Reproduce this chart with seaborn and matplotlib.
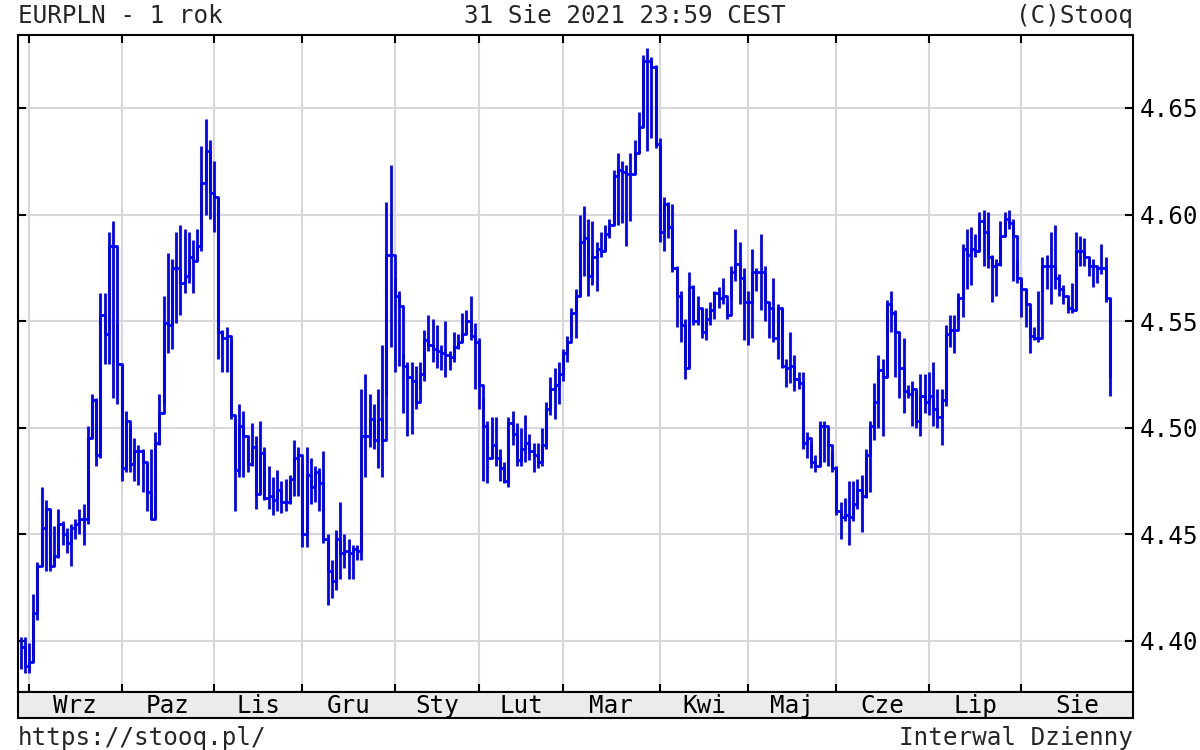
import matplotlib
matplotlib.use("Agg")
import matplotlib.pyplot as plt
import numpy as np
import pandas as pd
import seaborn as sns

sns.set_theme(style="white")
plt.rcParams["font.family"] = ["DejaVu Sans Mono", "DejaVu Sans"]

# EUR/PLN daily quotes (close / high / low), 28 Aug 2020 - 31 Aug 2021
close_aug20 = [4.397, 4.388]
high_aug20 = [4.402, 4.402]
low_aug20 = [4.387, 4.385]

close_sep = [4.390, 4.413, 4.435, 4.453, 4.462, 4.435, 4.440, 4.455, 4.450, 4.446, 4.453,
             4.455, 4.457, 4.457, 4.495, 4.513, 4.487, 4.553, 4.544, 4.585, 4.585, 4.530]
high_sep = [4.399, 4.422, 4.437, 4.472, 4.466, 4.462, 4.454, 4.462, 4.456, 4.453, 4.455,
            4.457, 4.462, 4.464, 4.501, 4.516, 4.514, 4.563, 4.563, 4.592, 4.597, 4.549]
low_sep = [4.385, 4.390, 4.410, 4.435, 4.433, 4.433, 4.435, 4.439, 4.445, 4.441, 4.435,
           4.448, 4.450, 4.445, 4.455, 4.495, 4.482, 4.486, 4.530, 4.530, 4.514, 4.511]

close_oct = [4.481, 4.503, 4.483, 4.489, 4.489, 4.484, 4.470, 4.457, 4.493, 4.507, 4.549,
             4.548, 4.575, 4.575, 4.568, 4.571, 4.580, 4.578, 4.585, 4.615, 4.630, 4.610]
high_oct = [4.530, 4.508, 4.500, 4.495, 4.492, 4.490, 4.483, 4.490, 4.498, 4.516, 4.562,
            4.582, 4.579, 4.592, 4.595, 4.593, 4.592, 4.588, 4.593, 4.632, 4.645, 4.635]
low_oct = [4.475, 4.479, 4.479, 4.475, 4.473, 4.470, 4.461, 4.457, 4.457, 4.492, 4.511,
           4.535, 4.537, 4.549, 4.553, 4.563, 4.568, 4.563, 4.578, 4.583, 4.600, 4.598]

close_nov = [4.608, 4.545, 4.542, 4.543, 4.506, 4.480, 4.501, 4.496, 4.483, 4.491, 4.469,
             4.488, 4.467, 4.468, 4.466, 4.471, 4.465, 4.465, 4.476, 4.486, 4.487]
high_nov = [4.625, 4.608, 4.546, 4.547, 4.542, 4.504, 4.511, 4.508, 4.494, 4.502, 4.496,
            4.503, 4.491, 4.482, 4.477, 4.480, 4.475, 4.476, 4.478, 4.494, 4.491]
low_nov = [4.592, 4.532, 4.526, 4.526, 4.504, 4.461, 4.477, 4.477, 4.479, 4.482, 4.462,
           4.469, 4.466, 4.462, 4.459, 4.461, 4.460, 4.461, 4.464, 4.468, 4.468]

close_dec = [4.450, 4.478, 4.472, 4.479, 4.474, 4.448, 4.433, 4.428, 4.448, 4.441, 4.442,
             4.441, 4.443, 4.442, 4.496, 4.496, 4.504, 4.494, 4.504, 4.494, 4.581, 4.581]
high_dec = [4.483, 4.491, 4.486, 4.482, 4.481, 4.489, 4.450, 4.438, 4.452, 4.465, 4.450,
            4.448, 4.445, 4.445, 4.518, 4.525, 4.516, 4.511, 4.518, 4.539, 4.606, 4.623]
low_dec = [4.444, 4.444, 4.464, 4.465, 4.461, 4.446, 4.417, 4.420, 4.424, 4.429, 4.434,
           4.429, 4.429, 4.438, 4.438, 4.477, 4.491, 4.490, 4.481, 4.477, 4.515, 4.538]

close_jan = [4.562, 4.557, 4.529, 4.524, 4.522, 4.512, 4.525, 4.541, 4.539, 4.537,
             4.536, 4.535, 4.534, 4.533, 4.538, 4.540, 4.544, 4.550, 4.543, 4.540]
high_jan = [4.570, 4.564, 4.535, 4.531, 4.531, 4.529, 4.531, 4.546, 4.553, 4.551,
            4.548, 4.539, 4.550, 4.536, 4.545, 4.544, 4.554, 4.555, 4.562, 4.549]
low_jan = [4.526, 4.529, 4.507, 4.496, 4.497, 4.509, 4.518, 4.522, 4.536, 4.531,
           4.528, 4.527, 4.524, 4.527, 4.531, 4.537, 4.540, 4.544, 4.541, 4.518]

close_feb = [4.520, 4.501, 4.486, 4.492, 4.486, 4.481, 4.475, 4.502, 4.497, 4.485,
             4.490, 4.493, 4.489, 4.487, 4.484, 4.492, 4.509, 4.518, 4.520, 4.525]
high_feb = [4.542, 4.514, 4.503, 4.505, 4.505, 4.490, 4.484, 4.505, 4.508, 4.502,
            4.500, 4.506, 4.497, 4.493, 4.493, 4.500, 4.512, 4.524, 4.528, 4.531]
low_feb = [4.509, 4.475, 4.474, 4.486, 4.482, 4.475, 4.474, 4.472, 4.492, 4.482,
           4.482, 4.484, 4.485, 4.479, 4.481, 4.482, 4.490, 4.506, 4.504, 4.511]

close_mar = [4.535, 4.540, 4.554, 4.562, 4.587, 4.589, 4.571, 4.580, 4.584, 4.583, 4.591, 4.595,
             4.618, 4.621, 4.620, 4.619, 4.619, 4.629, 4.641, 4.672, 4.672, 4.669, 4.633]
high_mar = [4.537, 4.543, 4.556, 4.565, 4.600, 4.604, 4.598, 4.597, 4.587, 4.592, 4.595, 4.598,
            4.621, 4.629, 4.625, 4.623, 4.629, 4.635, 4.648, 4.675, 4.678, 4.674, 4.670]
low_mar = [4.522, 4.531, 4.542, 4.542, 4.562, 4.571, 4.562, 4.567, 4.564, 4.580, 4.583, 4.589,
           4.595, 4.595, 4.596, 4.585, 4.597, 4.619, 4.629, 4.641, 4.630, 4.636, 4.631]

close_apr = [4.592, 4.605, 4.594, 4.575, 4.562, 4.548, 4.528, 4.566, 4.550, 4.556, 4.545,
             4.551, 4.555, 4.563, 4.561, 4.562, 4.553, 4.573, 4.577, 4.570, 4.559]
high_apr = [4.636, 4.608, 4.606, 4.605, 4.576, 4.564, 4.551, 4.573, 4.567, 4.562, 4.556,
            4.556, 4.559, 4.564, 4.566, 4.570, 4.559, 4.576, 4.593, 4.587, 4.575]
low_apr = [4.587, 4.583, 4.589, 4.573, 4.547, 4.540, 4.523, 4.528, 4.548, 4.548, 4.542,
           4.541, 4.548, 4.551, 4.556, 4.558, 4.551, 4.561, 4.569, 4.558, 4.541]

close_may = [4.559, 4.573, 4.573, 4.573, 4.559, 4.556, 4.542, 4.556, 4.529, 4.528, 4.529,
             4.523, 4.521, 4.493, 4.495, 4.484, 4.482, 4.501, 4.501, 4.492, 4.481]
high_may = [4.564, 4.584, 4.575, 4.591, 4.576, 4.559, 4.570, 4.558, 4.556, 4.532, 4.545,
            4.534, 4.526, 4.526, 4.498, 4.493, 4.487, 4.503, 4.503, 4.494, 4.489]
low_may = [4.539, 4.542, 4.564, 4.555, 4.550, 4.542, 4.540, 4.532, 4.528, 4.519, 4.521,
           4.517, 4.518, 4.490, 4.486, 4.481, 4.479, 4.482, 4.484, 4.482, 4.479]

close_jun = [4.461, 4.458, 4.459, 4.458, 4.464, 4.471, 4.468, 4.487, 4.501, 4.512, 4.527,
             4.524, 4.558, 4.554, 4.545, 4.528, 4.517, 4.516, 4.518, 4.503, 4.515, 4.512]
high_jun = [4.482, 4.465, 4.467, 4.475, 4.475, 4.476, 4.478, 4.490, 4.503, 4.521, 4.534,
            4.532, 4.560, 4.564, 4.555, 4.545, 4.542, 4.520, 4.522, 4.517, 4.525, 4.525]
low_jun = [4.459, 4.448, 4.456, 4.445, 4.456, 4.462, 4.451, 4.467, 4.470, 4.494, 4.500,
           4.496, 4.524, 4.545, 4.524, 4.514, 4.507, 4.514, 4.501, 4.500, 4.496, 4.507]

close_jul = [4.515, 4.509, 4.505, 4.513, 4.544, 4.546, 4.546, 4.561, 4.584, 4.581, 4.584,
             4.583, 4.597, 4.592, 4.580, 4.576, 4.577, 4.590, 4.598, 4.596, 4.590, 4.570]
high_jul = [4.526, 4.531, 4.518, 4.518, 4.548, 4.553, 4.553, 4.563, 4.586, 4.593, 4.594,
            4.591, 4.601, 4.602, 4.601, 4.581, 4.579, 4.597, 4.601, 4.602, 4.598, 4.579]
low_jul = [4.506, 4.501, 4.500, 4.492, 4.510, 4.538, 4.535, 4.551, 4.552, 4.565, 4.567,
           4.580, 4.583, 4.576, 4.575, 4.559, 4.562, 4.576, 4.590, 4.593, 4.569, 4.568]

close_aug = [4.565, 4.558, 4.543, 4.542, 4.542, 4.576, 4.576, 4.576, 4.570, 4.565, 4.562,
             4.556, 4.555, 4.583, 4.583, 4.580, 4.576, 4.576, 4.575, 4.575, 4.561, 4.524]
high_aug = [4.570, 4.565, 4.556, 4.547, 4.564, 4.580, 4.581, 4.592, 4.595, 4.572, 4.567,
            4.559, 4.568, 4.592, 4.590, 4.589, 4.579, 4.579, 4.576, 4.586, 4.580, 4.561]
low_aug = [4.552, 4.547, 4.535, 4.541, 4.540, 4.564, 4.565, 4.558, 4.565, 4.562, 4.558,
           4.554, 4.554, 4.555, 4.576, 4.576, 4.571, 4.566, 4.568, 4.572, 4.559, 4.515]

month_labels = ["Wrz", "Paz", "Lis", "Gru", "Sty", "Lut",
                "Mar", "Kwi", "Maj", "Cze", "Lip", "Sie"]
y_ticks = [4.40, 4.45, 4.50, 4.55, 4.60, 4.65]
closed_days = ["2020-12-25", "2021-01-01", "2021-04-02"]

dates = pd.bdate_range("2020-08-28", "2021-08-31")
dates = dates[~dates.isin(pd.to_datetime(closed_days))]

close = np.concatenate([close_aug20, close_sep, close_oct, close_nov, close_dec, close_jan,
                        close_feb, close_mar, close_apr, close_may, close_jun, close_jul, close_aug])
high = np.concatenate([high_aug20, high_sep, high_oct, high_nov, high_dec, high_jan,
                       high_feb, high_mar, high_apr, high_may, high_jun, high_jul, high_aug])
low = np.concatenate([low_aug20, low_sep, low_oct, low_nov, low_dec, low_jan,
                      low_feb, low_mar, low_apr, low_may, low_jun, low_jul, low_aug])

df = pd.DataFrame({"date": dates, "pos": np.arange(len(dates)),
                   "close": close, "high": high, "low": low})

# first session of each month from September on
month_pos = df.groupby(df["date"].dt.to_period("M"))["pos"].min().values[1:]
x_left = month_pos[0] - 11 / 4.205
x_right = month_pos[0] + 1104 / 4.205
edges = np.append(month_pos, x_right)
label_pos = (edges[:-1] + edges[1:]) / 2

blue = "#0000ff"
fs = 17.5
lw_data = 2.0

fig = plt.figure(figsize=(12, 7.5), dpi=100)
ax = fig.add_axes([0.015, 0.0773, 0.9292, 0.876])
band = fig.add_axes([0.015, 0.04267, 0.9292, 0.03467])

ax.vlines(df["pos"], df["low"], df["high"], color=blue, lw=lw_data, zorder=3)
sns.lineplot(data=df, x="pos", y="close", drawstyle="steps-post", color=blue,
             lw=lw_data, ax=ax, zorder=3)

ax.set_xlim(x_left, x_right)
ax.set_ylim(4.376, 4.6842)
ax.set_xlabel("")
ax.set_ylabel("")
ax.set_xticks(month_pos)
ax.set_xticklabels([])
ax.set_yticks(y_ticks)
ax.set_yticklabels([f"{v:.2f}" for v in y_ticks])
ax.tick_params(axis="x", direction="in", length=6, width=1.5, color="black",
               top=True, bottom=True)
ax.tick_params(axis="y", direction="in", length=6, width=1.5, color="black",
               left=True, right=True, labelleft=False, labelright=True,
               pad=5, labelsize=fs, labelcolor="black")
ax.grid(True, color="#d8d8d8", lw=1.5)
ax.set_axisbelow(True)
ax.set_facecolor("white")
for s in ax.spines.values():
    s.set_visible(True)
    s.set_color("black")
    s.set_linewidth(1.5)

band.set_xlim(x_left, x_right)
band.set_ylim(0, 1)
band.set_facecolor("#ebebeb")
band.set_xticks([])
band.set_yticks([])
for s in band.spines.values():
    s.set_visible(True)
    s.set_color("black")
    s.set_linewidth(1.5)
for xp, lab in zip(label_pos, month_labels):
    band.text(xp, 0.2, lab, ha="center", va="baseline", fontsize=fs, color="black")

fig.text(0.015, 0.9693, "EURPLN - 1 rok", ha="left", va="baseline", fontsize=fs)
fig.text(0.521, 0.9693, "31 Sie 2021 23:59 CEST", ha="center", va="baseline", fontsize=fs)
fig.text(0.9442, 0.9693, "(C)Stooq", ha="right", va="baseline", fontsize=fs)
fig.text(0.015, 0.0067, "https://stooq.pl/", ha="left", va="baseline", fontsize=fs)
fig.text(0.9442, 0.0067, "Interwal Dzienny", ha="right", va="baseline", fontsize=fs)

fig.savefig("out.png", dpi=100, facecolor="white")
plt.close(fig)
